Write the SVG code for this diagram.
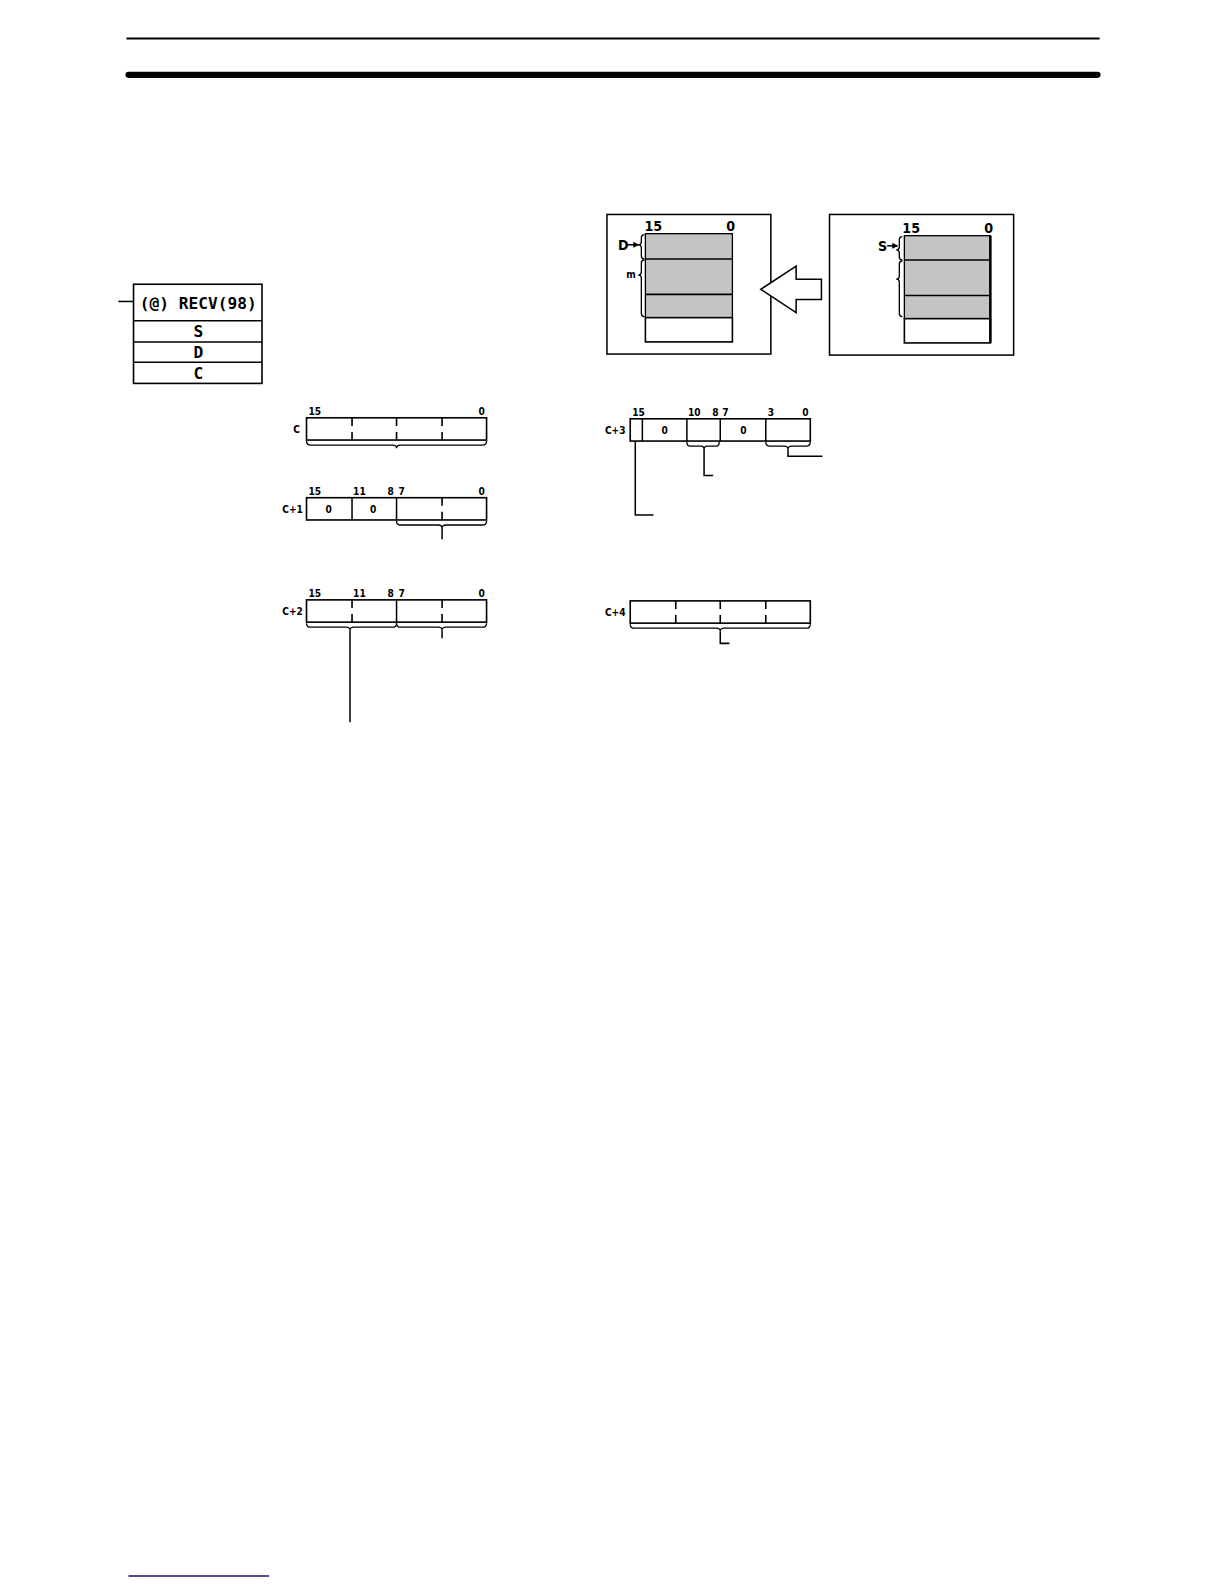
<svg xmlns="http://www.w3.org/2000/svg" width="1224" height="1584" viewBox="0 0 1224 1584">
<defs>
<marker id="ah" markerWidth="6" markerHeight="6" refX="5" refY="3" orient="auto" markerUnits="userSpaceOnUse">
<path d="M0,0 L6,3 L0,6 Z" fill="#000"/>
</marker>
</defs>
<style>
.ln{stroke:#000;stroke-width:1.5;fill:none}
.bx{stroke:#000;stroke-width:1.6;fill:#fff}
.dash{stroke:#000;stroke-width:1.6;stroke-dasharray:8 6 8}
.br{stroke:#000;stroke-width:1.3;fill:none}
.gray{fill:#c4c4c4;stroke:#000;stroke-width:1.3}
.lbl{font-family:"DejaVu Sans Condensed","Liberation Sans Narrow","Liberation Sans",sans-serif;font-stretch:condensed;font-weight:bold;font-size:10px;fill:#000}
.lbl2{font-family:"DejaVu Sans Condensed","Liberation Sans Narrow","Liberation Sans",sans-serif;font-stretch:condensed;font-weight:bold;font-size:14px;fill:#000}
.mono{font-family:"DejaVu Sans Mono","Liberation Mono",monospace;font-size:16px;font-weight:bold;fill:#000}
.z{font-family:"DejaVu Sans Condensed","Liberation Sans",sans-serif;font-stretch:condensed;font-weight:bold;font-size:10px;fill:#000;text-anchor:middle}
</style>
<g transform="scale(1.0116)">
<!-- header rules -->
<line x1="125" y1="38" x2="1087" y2="38" stroke="#000" stroke-width="2"/>
<line x1="127" y1="74" x2="1085" y2="74" stroke="#000" stroke-width="6" stroke-linecap="round"/>
<line x1="127" y1="1558" x2="266" y2="1558" stroke="#14147a" stroke-width="1.5"/>

<!-- RECV ladder symbol -->
<g id="recv">
<line class="ln" x1="117" y1="298" x2="132" y2="298"/>
<rect class="bx" x="132" y="281" width="127" height="98"/>
<line class="ln" x1="132" y1="317" x2="259" y2="317"/>
<line class="ln" x1="132" y1="338" x2="259" y2="338"/>
<line class="ln" x1="132" y1="358" x2="259" y2="358"/>
<text class="mono" x="196" y="305" text-anchor="middle">(@) RECV(98)</text>
<text class="mono" x="196" y="333" text-anchor="middle">S</text>
<text class="mono" x="196" y="354" text-anchor="middle">D</text>
<text class="mono" x="196" y="375" text-anchor="middle">C</text>
</g>

<!-- destination memory -->
<g id="dest">
<rect class="ln" x="600" y="212" width="162" height="138"/>
<rect class="gray" x="638" y="231" width="86" height="83"/>
<line class="ln" x1="638" y1="256" x2="724" y2="256"/>
<line class="ln" x1="638" y1="291" x2="724" y2="291"/>
<rect class="bx" x="638" y="314" width="86" height="24"/>
<text class="lbl2" x="637" y="228">15</text>
<text class="lbl2" x="718" y="228">0</text>
<text class="lbl2" x="611" y="247">D</text>
<line class="ln" x1="620" y1="242" x2="631" y2="242" marker-end="url(#ah)"/>
<path class="br" d="M637,232 q-3,0 -3,3 V239 q0,3 -3,3 q3,0 3,3 V253 q0,3 3,3"/>
<path class="br" d="M637,257 q-3,0 -3,3 V269 q0,3 -3,3 q3,0 3,3 V310 q0,3 3,3"/>
<text class="lbl" x="619" y="275">m</text>
</g>

<!-- transfer arrow -->
<g id="arrow">
<path d="M752,286 L787,263 V276 H812 V296 H787 V309 Z" fill="#fff" stroke="#000" stroke-width="1.5"/>
</g>

<!-- source memory -->
<g id="src">
<rect class="ln" x="820" y="212" width="182" height="139"/>
<rect class="gray" x="894" y="233" width="85" height="82"/>
<line class="ln" x1="894" y1="257" x2="979" y2="257"/>
<line class="ln" x1="894" y1="292" x2="979" y2="292"/>
<rect class="bx" x="894" y="315" width="85" height="24"/>
<line x1="979" y1="233" x2="979" y2="339" stroke="#000" stroke-width="2.5"/>
<text class="lbl2" x="892" y="230">15</text>
<text class="lbl2" x="973" y="230">0</text>
<text class="lbl2" x="868" y="248">S</text>
<line class="ln" x1="877" y1="243" x2="887" y2="243" marker-end="url(#ah)"/>
<path class="br" d="M892,234 q-3,0 -3,3 V244 q0,3 -3,3 q3,0 3,3 V254 q0,3 3,3"/>
<path class="br" d="M892,258 q-3,0 -3,3 V273 q0,3 -3,3 q3,0 3,3 V310 q0,3 3,3"/>
</g>

<!-- C word -->
<g id="wordC">
<rect class="bx" x="303" y="413" width="178" height="22"/>
<line class="dash" x1="348" y1="413" x2="348" y2="435"/>
<line class="dash" x1="392" y1="413" x2="392" y2="435"/>
<line class="dash" x1="437" y1="413" x2="437" y2="435"/>
<text class="lbl" x="305" y="410">15</text>
<text class="lbl" x="473" y="410">0</text>
<text class="lbl" x="290" y="428">C</text>
</g>

<!-- C+1 word -->
<g id="wordC1">
<rect class="bx" x="303" y="492" width="178" height="22"/>
<line class="ln" x1="348" y1="492" x2="348" y2="514"/>
<line class="ln" x1="392" y1="492" x2="392" y2="514"/>
<line class="dash" x1="437" y1="492" x2="437" y2="514"/>
<text class="z" x="325" y="507">0</text>
<text class="z" x="369" y="507">0</text>
<text class="lbl" x="305" y="489">15</text>
<text class="lbl" x="349" y="489">11</text>
<text class="lbl" x="383" y="489">8</text>
<text class="lbl" x="394" y="489">7</text>
<text class="lbl" x="473" y="489">0</text>
<text class="lbl" x="279" y="507">C+1</text>
</g>

<!-- C+2 word -->
<g id="wordC2">
<rect class="bx" x="303" y="593" width="178" height="22"/>
<line class="dash" x1="348" y1="593" x2="348" y2="615"/>
<line class="ln" x1="392" y1="593" x2="392" y2="615"/>
<line class="dash" x1="437" y1="593" x2="437" y2="615"/>
<text class="lbl" x="305" y="590">15</text>
<text class="lbl" x="349" y="590">11</text>
<text class="lbl" x="383" y="590">8</text>
<text class="lbl" x="394" y="590">7</text>
<text class="lbl" x="473" y="590">0</text>
<text class="lbl" x="279" y="608">C+2</text>
</g>

<!-- C+3 word -->
<g id="wordC3">
<rect class="bx" x="623" y="414" width="178" height="22"/>
<line class="ln" x1="635" y1="414" x2="635" y2="436"/>
<line class="ln" x1="679" y1="414" x2="679" y2="436"/>
<line class="ln" x1="712" y1="414" x2="712" y2="436"/>
<line class="ln" x1="757" y1="414" x2="757" y2="436"/>
<text class="z" x="657" y="429">0</text>
<text class="z" x="735" y="429">0</text>
<text class="lbl" x="625" y="411">15</text>
<text class="lbl" x="680" y="411">10</text>
<text class="lbl" x="704" y="411">8</text>
<text class="lbl" x="714" y="411">7</text>
<text class="lbl" x="759" y="411">3</text>
<text class="lbl" x="793" y="411">0</text>
<text class="lbl" x="598" y="429">C+3</text>
</g>

<!-- C+4 word -->
<g id="wordC4">
<rect class="bx" x="623" y="594" width="178" height="22"/>
<line class="dash" x1="668" y1="594" x2="668" y2="616"/>
<line class="dash" x1="712" y1="594" x2="712" y2="616"/>
<line class="dash" x1="757" y1="594" x2="757" y2="616"/>
<text class="lbl" x="598" y="609">C+4</text>
</g>

<!-- braces and leader lines -->
<g id="connectors">
<path class="br" d="M303,436 q0,4 4,4 H388 q4,0 4,3 q0,-3 4,-3 H477 q4,0 4,-4"/>
<path class="br" d="M392,515 q0,4 4,4 H433 q4,0 4,3 q0,-3 4,-3 H477 q4,0 4,-4"/>
<line class="ln" x1="437" y1="522" x2="437" y2="533"/>
<path class="br" d="M303,616 q0,4 4,4 H342 q4,0 4,3 q0,-3 4,-3 H388 q4,0 4,-4"/>
<path class="br" d="M392,616 q0,4 4,4 H433 q4,0 4,3 q0,-3 4,-3 H477 q4,0 4,-4"/>
<line class="ln" x1="346" y1="623" x2="346" y2="714"/>
<line class="ln" x1="437" y1="623" x2="437" y2="631"/>
<polyline class="ln" points="628,436 628,509 646,509"/>
<path class="br" d="M679,437 q0,4 3,4 H693 q3,0 3,3 q0,-3 3,-3 H708 q3,0 3,-4"/>
<polyline class="ln" points="696,444 696,470 705,470"/>
<path class="br" d="M757,437 q0,4 4,4 H775 q4,0 4,3 q0,-3 4,-3 H797 q4,0 4,-4"/>
<polyline class="ln" points="779,444 779,451 813,451"/>
<path class="br" d="M623,617 q0,4 4,4 H708 q4,0 4,3 q0,-3 4,-3 H797 q4,0 4,-4"/>
<polyline class="ln" points="712,624 712,636 721,636"/>
</g>
</g>
</svg>
